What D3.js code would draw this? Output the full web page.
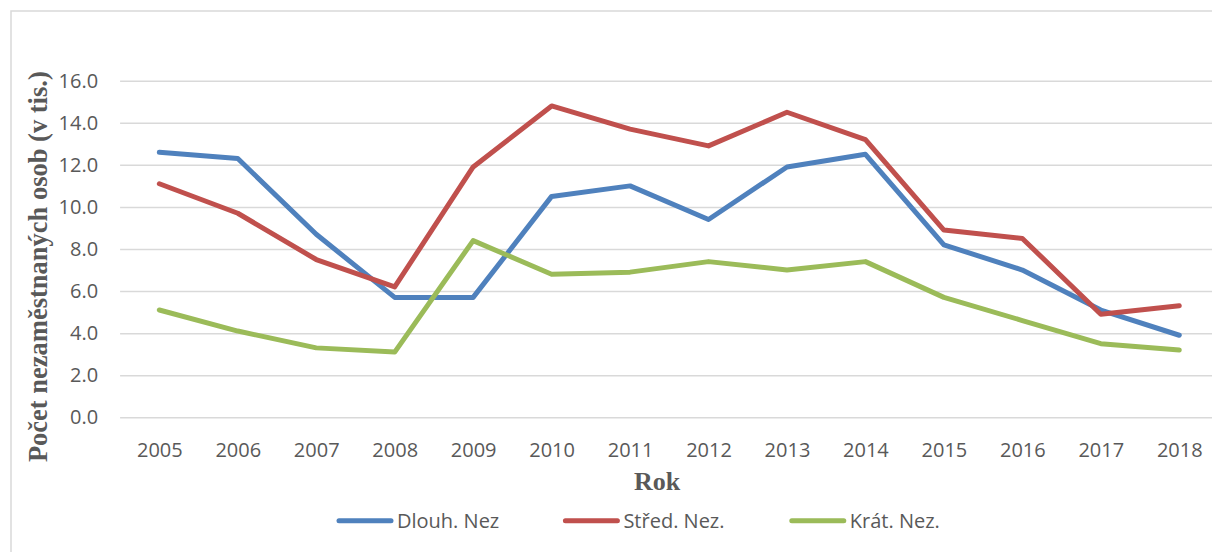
<!DOCTYPE html>
<html>
<head>
<meta charset="utf-8">
<script src="https://cdn.jsdelivr.net/npm/d3@7"></script>
<style>
  body { margin: 0; background: #fff; }
  svg { display: block; }
  .tick text { font-family: "Open Sans", sans-serif; font-size: 20px; fill: #595959; }
  .axisTitle { font-family: "Liberation Serif", "Times New Roman", serif; font-weight: bold; fill: #595959; }
  .legendText { font-family: "Open Sans", sans-serif; font-size: 20px; fill: #595959; }
</style>
</head>
<body>
<script>
//chart data
var years = ["2005", "2006", "2007", "2008", "2009", "2010", "2011", "2012", "2013", "2014", "2015", "2016", "2017", "2018"];
var dlouhNez = [12.6, 12.3, 8.7, 5.7, 5.7, 10.5, 11.0, 9.4, 11.9, 12.5, 8.2, 7.0, 5.1, 3.9];
var stredNez = [11.1, 9.7, 7.5, 6.2, 11.9, 14.8, 13.7, 12.9, 14.5, 13.2, 8.9, 8.5, 4.9, 5.3];
var kratNez = [5.1, 4.1, 3.3, 3.1, 8.4, 6.8, 6.9, 7.4, 7.0, 7.4, 5.7, 4.6, 3.5, 3.2];
var seriesNames = ["Dlouh. Nez", "Střed. Nez.", "Krát. Nez."];
var yTicks = [0, 2, 4, 6, 8, 10, 12, 14, 16];
var yTitle = "Počet nezaměstnaných osob (v tis.)";
var xTitle = "Rok";

var colors = ["#4F81BD", "#C0504D", "#9BBB59"];

var width = 1212, height = 552;

var svg = d3.select("body")
    .append("svg")
    .attr("width", width)
    .attr("height", height);

//chart frame (right and bottom edges fall outside the picture)
svg.append("rect")
    .attr("x", 11)
    .attr("y", 11)
    .attr("width", 1230)
    .attr("height", 560)
    .attr("fill", "#fff")
    .attr("stroke", "#d9d9d9")
    .attr("stroke-width", 1.5);

//scales
var x = d3.scalePoint()
    .domain(years)
    .range([120.1, 1218.5])
    .padding(0.5);

var y = d3.scaleLinear()
    .domain([0, 16])
    .range([417.3, 80.7]);

//gridlines + y labels
var yAxis = svg.append("g")
    .attr("transform", "translate(120.1,0)")
    .call(d3.axisLeft(y)
        .tickValues(yTicks)
        .tickSize(-(1218.5 - 120.1))
        .tickPadding(22)
        .tickFormat(d3.format(".1f")));
yAxis.select(".domain").remove();
yAxis.selectAll(".tick line")
    .attr("stroke", "#d9d9d9")
    .attr("stroke-width", 1.5);
yAxis.selectAll(".tick text")
    .attr("dy", "0.33em");

//x labels
var xAxis = svg.append("g")
    .attr("transform", "translate(0,417.3)")
    .call(d3.axisBottom(x).tickSize(0).tickPadding(0));
xAxis.select(".domain").remove();
xAxis.selectAll(".tick text")
    .attr("y", 39.4)
    .attr("dy", 0);

//axis titles
svg.append("text")
    .attr("class", "axisTitle")
    .attr("transform", "translate(46.5,266.7) rotate(-90)")
    .attr("text-anchor", "middle")
    .style("font-size", "26.5px")
    .text(yTitle);

svg.append("text")
    .attr("class", "axisTitle")
    .attr("x", 657)
    .attr("y", 490)
    .attr("text-anchor", "middle")
    .style("font-size", "26px")
    .text(xTitle);

//lines
var allSeries = [dlouhNez, stredNez, kratNez];
var line = d3.line()
    .x(function(d, i){ return x(years[i]); })
    .y(function(d){ return y(d); });

svg.selectAll(".series")
    .data(allSeries)
    .enter()
    .append("path")
    .attr("class", "series")
    .attr("d", line)
    .attr("fill", "none")
    .attr("stroke", function(d, i){ return colors[i]; })
    .attr("stroke-width", 5)
    .attr("stroke-linejoin", "round")
    .attr("stroke-linecap", "round");

//legend
var legend = svg.selectAll(".legendItem")
    .data(seriesNames)
    .enter()
    .append("g")
    .attr("class", "legendItem")
    .attr("transform", function(d, i){ return "translate(" + (337 + i * 226.4) + ",520.7)"; });

legend.append("line")
    .attr("x1", 2)
    .attr("x2", 54)
    .attr("stroke", function(d, i){ return colors[i]; })
    .attr("stroke-width", 5)
    .attr("stroke-linecap", "round");

legend.append("text")
    .attr("class", "legendText")
    .attr("x", 60)
    .attr("y", 6.8)
    .text(function(d){ return d; });
</script>
</body>
</html>
